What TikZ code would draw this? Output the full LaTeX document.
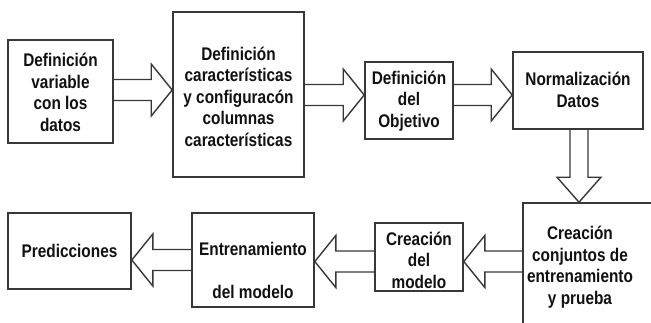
\documentclass[tikz,border=0pt]{standalone}
\usepackage{fontspec}
\setmainfont{Liberation Sans}[FakeStretch=0.84]
\usetikzlibrary{calc}
\definecolor{lc}{HTML}{383838}
\definecolor{tc}{HTML}{111111}
\tikzset{
  box/.style={draw=lc, line width=1.6pt, align=center, inner sep=0pt,
    font=\fontsize{18.3}{21.5}\selectfont\bfseries, text=tc},
  barrow/.style={draw=lc, line width=1.4pt, line join=miter},
  rarr/.style={barrow, to path={($(\tikztostart)+(0,-10.5)$) -- ($(\tikztotarget)+(-21,-10.5)$) -- ($(\tikztotarget)+(-21,-26)$) -- (\tikztotarget) -- ($(\tikztotarget)+(-21,26)$) -- ($(\tikztotarget)+(-21,10.5)$) -- ($(\tikztostart)+(0,10.5)$)}},
  larr/.style={barrow, to path={($(\tikztostart)+(0,-10.5)$) -- ($(\tikztotarget)+(21,-10.5)$) -- ($(\tikztotarget)+(21,-26)$) -- (\tikztotarget) -- ($(\tikztotarget)+(21,26)$) -- ($(\tikztotarget)+(21,10.5)$) -- ($(\tikztostart)+(0,10.5)$)}},
  darr/.style={barrow, to path={($(\tikztostart)+(-9,0)$) -- ($(\tikztotarget)+(-9,-25)$) -- ($(\tikztotarget)+(-22,-25)$) -- (\tikztotarget) -- ($(\tikztotarget)+(22,-25)$) -- ($(\tikztotarget)+(9,-25)$) -- ($(\tikztostart)+(9,0)$)}},
}
\begin{document}
\begin{tikzpicture}[x=1pt,y=-1pt]
\useasboundingbox (0,0) rectangle (651,322);
\clip (0,0) rectangle (651,322);
\fill[white] (0,0) rectangle (651,322);
% boxes
\node[box, minimum width=105pt, minimum height=103pt] (b1) at (60.5,91.5) {\mbox{}\\[-6pt]Definición\\variable\\con los\\datos};
\node[box, minimum width=131pt, minimum height=165pt] (b2) at (238.5,94.5) {\mbox{}\\[-4pt]Definición\\características\\y configuracón\\columnas\\características};
\node[box, minimum width=88pt, minimum height=77pt] (b3) at (409,100.5) {\mbox{}\\[-7pt]Definición\\del\\Objetivo};
\node[box, minimum width=130pt, minimum height=77pt] (b4) at (578,90.5) {\mbox{}\\[-9pt]Normalización\\Datos};
\node[box, minimum width=150pt, minimum height=140pt] (b5) at (598,273) {};
\node[box, draw=none] (b5t) at (580,267) {Creación\\conjuntos de\\entrenamiento\\y prueba};
\node[box, minimum width=88pt, minimum height=68pt] (b6) at (419,257) {\mbox{}\\[-2pt]Creación\\del\\modelo};
\node[box, minimum width=122pt, minimum height=94pt] (b7) at (253,260) {\mbox{}\\[12pt]Entrenamiento\\ \\del modelo};
\node[box, minimum width=123pt, minimum height=76pt] (b8) at (69.5,251) {\mbox{}\\[-9pt]Predicciones};
% arrow end points
\coordinate (a1s) at (b1.east |- 0,90);
\coordinate (a1t) at (b2.west |- 0,90);
\coordinate (a2s) at (b2.east |- 0,95);
\coordinate (a2t) at (b3.west |- 0,95);
\coordinate (a3s) at (b3.east |- 0,95);
\coordinate (a3t) at (b4.west |- 0,95);
\coordinate (a4s) at (b4.south -| 579,0);
\coordinate (a4t) at (b5.north -| 579,0);
\coordinate (a5s) at (b5.west |- 0,261.5);
\coordinate (a5t) at (b6.east |- 0,261.5);
\coordinate (a6s) at (b6.west |- 0,261.5);
\coordinate (a6t) at (b7.east |- 0,261.5);
\coordinate (a7s) at (b7.west |- 0,260);
\coordinate (a7t) at (b8.east |- 0,260);
% block arrows
\draw[rarr] (a1s) to (a1t);
\draw[rarr] (a2s) to (a2t);
\draw[rarr] (a3s) to (a3t);
\draw[darr] (a4s) to (a4t);
\draw[larr] (a5s) to (a5t);
\draw[larr] (a6s) to (a6t);
\draw[larr] (a7s) to (a7t);
\end{tikzpicture}
\end{document}
